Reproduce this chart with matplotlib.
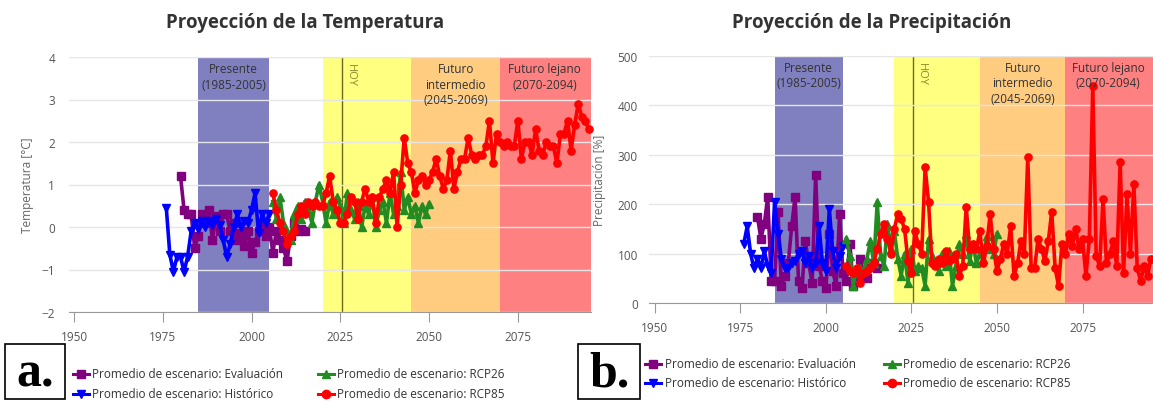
import numpy as np
import matplotlib
matplotlib.use("Agg")
import matplotlib.pyplot as plt
from matplotlib.lines import Line2D
from matplotlib.patches import Rectangle

plt.rcParams['font.family'] = ['Open Sans', 'DejaVu Sans']

# ---- data ----
hist_years = list(range(1976, 2006))
eval_years = list(range(1980, 2016))
rcp26_years = list(range(2006, 2051))
rcp85_years = list(range(2006, 2096))

temp_hist = [0.45, -0.65, -1.05, -0.7, -0.7, -1.05, -0.7, -0.1, 0.1, -0.05,
             0.15, 0.0, 0.15, 0.05, 0.2, 0.05, -0.3, -0.7, -0.4, 0.0,
             0.3, 0.0, 0.15, 0.1, 0.4, 0.8, -0.15, 0.3, 0.1, 0.3]
temp_eval = [1.2, 0.4, 0.3, 0.3, -0.5, -0.2, 0.3, 0.1, 0.4, -0.3,
             0.25, -0.1, 0.3, 0.3, -0.1, 0.1, -0.3, -0.15, -0.45, -0.1,
             -0.6, -0.35, -0.1, 0.1, -0.2, 0.0, -0.6, -0.1, -0.3, -0.5,
             -0.8, -0.2, 0.1, -0.1, -0.05, -0.1]
temp_rcp26 = [0.6, 0.2, 0.7, 0.1, -0.1, -0.3, 0.3, 0.5, 0.2, 0.6,
              0.4, 0.1, 0.6, 1.0, 0.6, 0.1, 0.6, 0.3, 0.7, 0.5,
              0.1, 0.8, 0.4, 0.2, 0.6, 0.0, 0.5, 0.3, 0.7, 0.0,
              0.4, 0.6, 0.1, 0.8, 0.3, 0.5, 1.3, 0.4, 0.7, 0.3,
              0.5, 0.1, 0.5, 0.3, 0.55]
temp_rcp85 = [0.8, 0.4, 0.1, -0.1, -0.4, -0.2, -0.1, 0.3, 0.5, 0.3,
              0.6, 0.5, 0.6, 0.5, 0.5, 0.8, 1.2, 0.6, 0.4, 0.1,
              0.1, 0.3, 0.7, 0.6, 0.2, 0.6, 0.9, 0.6, 0.7, 0.1,
              0.7, 0.9, 1.1, 0.8, 1.3, 0.0, 1.0, 2.1, 1.5, 1.3,
              0.8, 1.1, 1.2, 1.0, 1.1, 1.3, 1.6, 1.2, 0.9, 1.1,
              1.8, 0.9, 1.3, 1.6, 1.6, 2.1, 1.7, 1.6, 1.7, 1.7,
              1.9, 2.5, 1.5, 2.2, 2.0, 1.9, 2.0, 1.9, 1.9, 2.5,
              1.6, 2.0, 2.0, 1.7, 2.3, 1.8, 1.7, 2.0, 1.9, 1.9,
              1.5, 2.2, 2.2, 2.5, 1.8, 2.4, 2.9, 2.6, 2.5, 2.3]

prec_hist = [120, 155, 100, 70, 90, 70, 105, 75, 60, 205,
             140, 90, 70, 70, 80, 85, 100, 105, 80, 95,
             70, 80, 155, 80, 65, 190, 105, 70, 95, 115]
prec_eval = [175, 130, 160, 215, 45, 45, 185, 35, 55, 80,
             155, 215, 45, 30, 125, 80, 40, 260, 75, 45,
             30, 140, 65, 35, 180, 60, 45, 120, 35, 55,
             90, 60, 50, 75, 80, 70]
prec_rcp26 = [130, 95, 35, 70, 70, 65, 90, 125, 80, 205,
              95, 75, 160, 110, 145, 90, 55, 100, 40, 110,
              65, 75, 70, 35, 130, 95, 80, 65, 100, 75,
              105, 35, 75, 120, 100, 140, 85, 120, 80, 100,
              90, 135, 110, 100, 140]
prec_rcp85 = [75, 65, 60, 70, 40, 60, 65, 70, 80, 110,
              140, 160, 130, 100, 150, 180, 170, 150, 85, 60,
              145, 120, 100, 275, 205, 80, 75, 90, 80, 105,
              85, 90, 100, 55, 75, 195, 110, 120, 110, 145,
              80, 115, 180, 110, 65, 90, 120, 100, 155, 55,
              80, 125, 100, 295, 70, 70, 130, 110, 85, 125,
              185, 70, 35, 120, 100, 140, 115, 150, 110, 130,
              55, 130, 440, 95, 75, 210, 80, 100, 125, 75,
              285, 60, 220, 100, 240, 70, 45, 75, 55, 90]

bands = [(1985, 2005, '#8080c0', 'Presente\n(1985-2005)'),
         (2020, 2045, '#ffff80', ''),
         (2045, 2070, '#ffcc80', 'Futuro\nintermedio\n(2045-2069)'),
         (2070, 2095.6, '#ff8080', 'Futuro lejano\n(2070-2094)')]
hoy = 2025.5

series_names = ['Promedio de escenario: Evaluación', 'Promedio de escenario: Histórico',
                'Promedio de escenario: RCP26', 'Promedio de escenario: RCP85']
colors = ['#800080', '#0000ff', '#228b22', '#ff0000']
markers = ['s', 'v', '^', 'o']

fig = plt.figure(figsize=(11.53, 4.02), dpi=100)
W, H = 1153, 402


def px(x, y):
    return x / W, 1 - y / H


def setup(ax, ylim, yticks, xlim):
    ax.set_xlim(*xlim)
    ax.set_ylim(*ylim)
    for x0, x1, c, lab in bands:
        ax.axvspan(x0, x1, color=c, lw=0, zorder=0)
        if lab:
            ax.text((x0 + min(x1, 2095)) / 2, ylim[1] - (ylim[1] - ylim[0]) * 0.02, lab,
                    ha='center', va='top', fontsize=8.5, color='#333333', zorder=5,
                    linespacing=1.25)
    ax.axvline(hoy, color='#6b6b1a', lw=1, zorder=1)
    ax.text(hoy + 0.8, ylim[1] - (ylim[1] - ylim[0]) * 0.025, 'HOY', rotation=-90,
            ha='left', va='top', fontsize=8, color='#8a8a2a', zorder=5)
    ax.set_yticks(yticks)
    ax.yaxis.grid(True, color='#e6e6e6', lw=1, zorder=0.5)
    ax.set_axisbelow(False)
    for s in ['top', 'right', 'left']:
        ax.spines[s].set_visible(False)
    ax.spines['bottom'].set_color('#999999')
    ax.set_xticks([1950, 1975, 2000, 2025, 2050, 2075])
    ax.tick_params(axis='x', length=7, color='#999999', labelsize=8.5,
                   labelcolor='#555555', pad=6)
    ax.tick_params(axis='y', length=0, labelsize=8.5, labelcolor='#555555', pad=10)


def draw(ax, data):
    for (yrs, vals), c, m in zip(data, colors, markers):
        ax.plot(yrs, vals, color=c, lw=2.6, marker=m, markersize=5.2, zorder=3,
                clip_on=False)


axL = fig.add_axes([69 / W, (H - 313) / H, (591 - 69) / W, (313 - 58) / H])
setup(axL, (-2, 4), range(-2, 5), (1948.6, 2095.6))
draw(axL, [(eval_years, temp_eval), (hist_years, temp_hist),
           (rcp26_years, temp_rcp26), (rcp85_years, temp_rcp85)])

axR = fig.add_axes([649 / W, (H - 304) / H, (1153 - 649) / W, (304 - 57) / H])
setup(axR, (0, 500), range(0, 501, 100), (1948.3, 2095.6))
axR.tick_params(axis='y', pad=8)
draw(axR, [(eval_years, prec_eval), (hist_years, prec_hist),
           (rcp26_years, prec_rcp26), (rcp85_years, prec_rcp85)])

# titles and y labels
fig.text(*px(305, 23), 'Proyección de la Temperatura', ha='center', va='center',
         fontsize=13.5, fontweight='bold', color='#333333')
fig.text(*px(872, 23), 'Proyección de la Precipitación', ha='center', va='center',
         fontsize=13.5, fontweight='bold', color='#333333')
fig.text(*px(28, 185), 'Temperatura [°C]', rotation=90, ha='center', va='center',
         fontsize=8.5, color='#666666')
fig.text(*px(600, 180), 'Precipitación [%]', rotation=90, ha='center', va='center',
         fontsize=8.5, color='#666666')


# legends
def legend(positions):
    for (mx, ty, tx), name, c, m in zip(positions, series_names, colors, markers):
        x0, y = px(mx, ty)
        x1, _ = px(mx + 16, ty)
        fig.add_artist(Line2D([x0, x1], [y, y], transform=fig.transFigure, color=c, lw=2.2))
        fig.add_artist(Line2D([(x0 + x1) / 2], [y], transform=fig.transFigure, color=c,
                              marker=m, markersize=6))
        fig.text(*px(tx, ty), name, ha='left', va='center', fontsize=8.5, color='#333333')


legend([(73, 375, 92), (73, 395, 92), (318, 375, 337), (318, 395, 337)])
legend([(645, 365, 665), (645, 384, 665), (884, 365, 903), (884, 384, 903)])

# panel labels
for (bx, by, bw, bh), lab in [((5, 345, 60, 55), 'a.'), ((578, 345, 62, 55), 'b.')]:
    x0, y1 = px(bx, by + bh)
    fig.add_artist(Rectangle((x0, y1), bw / W, bh / H, transform=fig.transFigure,
                             fill=False, ec='black', lw=1.2))
    fig.text(*px(bx + bw / 2, by + bh / 2 + 2), lab, ha='center', va='center',
             fontsize=36, fontweight='bold', family='Liberation Serif', color='black')

fig.savefig('out.png', dpi=100)
